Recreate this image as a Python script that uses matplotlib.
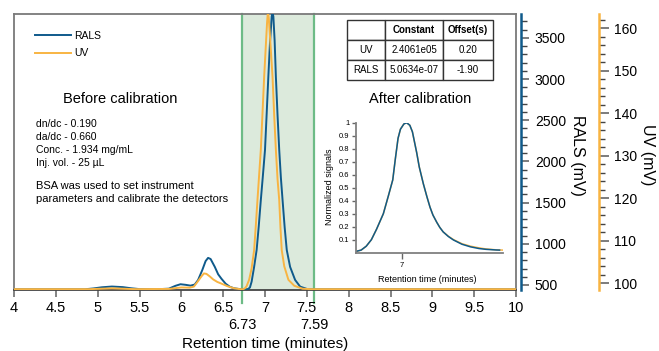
import matplotlib
matplotlib.use('Agg')
import matplotlib.pyplot as plt
from matplotlib.ticker import MultipleLocator

plt.rcParams['font.family'] = ['Liberation Sans', 'DejaVu Sans']

# RALS detector trace: retention time (min) and signal (mV)
rals_t = [4.0, 4.85, 4.95, 5.05, 5.17, 5.3, 5.4, 5.5, 5.7, 5.85, 5.93, 5.99, 6.05, 6.11,
          6.16, 6.2, 6.25, 6.29, 6.32, 6.35, 6.4, 6.44, 6.48, 6.53, 6.58, 6.63, 6.7, 6.78,
          6.8, 6.82, 6.84, 6.87, 6.9, 6.925, 6.95, 6.975, 7.0, 7.02, 7.04, 7.06, 7.08, 7.09,
          7.1, 7.115, 7.13, 7.15, 7.17, 7.19, 7.21, 7.235, 7.26, 7.3, 7.36, 7.42, 7.5, 7.55, 10.0]
rals_mv = [448, 448, 458, 472, 481, 474, 460, 450, 448, 455, 490, 509, 502, 492,
           505, 560, 680, 790, 829, 815, 720, 630, 575, 515, 478, 460, 450, 448,
           452, 470, 540, 720, 925, 1210, 1530, 1830, 2140, 2580, 3030, 3450, 3760, 3800,
           3760, 3470, 3030, 2560, 2140, 1800, 1530, 1200, 925, 720, 561, 480, 452, 448, 448]

# UV detector trace
uv_t = [4.0, 4.9, 5.17, 5.45, 5.85, 6.0, 6.1, 6.15, 6.2, 6.24, 6.27, 6.3, 6.34, 6.38,
        6.43, 6.48, 6.55, 6.63, 6.7, 6.74, 6.76, 6.78, 6.81, 6.84, 6.87, 6.89, 6.91, 6.93,
        6.95, 6.97, 6.99, 7.01, 7.025, 7.035, 7.045, 7.06, 7.09, 7.11, 7.13, 7.15, 7.17,
        7.185, 7.2, 7.23, 7.28, 7.35, 7.45, 7.55, 10.0]
uv_mv = [98.6, 98.6, 98.8, 98.6, 98.65, 99.0, 98.95, 99.2, 100.5, 101.6, 102.3, 102.2, 101.6, 100.9,
         100.3, 99.9, 99.3, 98.8, 98.6, 98.6, 98.8, 99.3, 100.8, 103.5, 107.8, 113.5, 119.6, 125.5,
         131.4, 140.0, 148.6, 156.0, 161.5, 164.0, 162.5, 158.0, 148.6, 139.5, 131.4, 124.5, 119.6,
         113.0, 107.8, 104.0, 100.8, 99.4, 98.7, 98.6, 98.6]

# normalized signals after calibration (inset)
norm_t = [6.73, 6.76, 6.79, 6.82, 6.85, 6.89, 6.92, 6.945, 6.96, 6.976, 6.99, 7.01, 7.026, 7.045,
          7.06, 7.085, 7.1, 7.124, 7.145, 7.163, 7.18, 7.202, 7.22, 7.24, 7.27, 7.3, 7.35, 7.4,
          7.45, 7.49, 7.55, 7.57]
norm_rals = [0.01, 0.02, 0.05, 0.10, 0.18, 0.30, 0.44, 0.56, 0.72, 0.88, 0.95, 0.99, 1.0, 0.98,
             0.93, 0.77, 0.66, 0.53, 0.43, 0.35, 0.29, 0.235, 0.195, 0.16, 0.125, 0.098, 0.065, 0.045,
             0.032, 0.026, 0.021, 0.02]
norm_t_uv = [6.73, 6.76, 6.79, 6.82, 6.85, 6.89, 6.92, 6.945, 6.96, 6.976, 6.99, 7.01, 7.026, 7.045,
             7.06, 7.085, 7.1, 7.124, 7.145, 7.163, 7.18, 7.202, 7.22, 7.24, 7.27, 7.3, 7.35, 7.4,
             7.45, 7.49, 7.55, 7.59]
norm_uv = [0.01, 0.02, 0.05, 0.10, 0.18, 0.30, 0.44, 0.56, 0.72, 0.88, 0.95, 0.99, 1.0, 0.98,
           0.93, 0.77, 0.66, 0.53, 0.43, 0.35, 0.29, 0.235, 0.195, 0.16, 0.127, 0.101, 0.069, 0.05,
           0.037, 0.029, 0.022, 0.02]

cal_window = [6.73, 7.59]
x_ticks = [4, 4.5, 5, 5.5, 6, 6.5, 7, 7.5, 8, 8.5, 9, 9.5, 10]
x_ticklabels = ['4', '4.5', '5', '5.5', '6', '6.5', '7', '7.5', '8', '8.5', '9', '9.5', '10']
rals_ticks = [500, 1000, 1500, 2000, 2500, 3000, 3500]
uv_ticks = [100, 110, 120, 130, 140, 150, 160]
norm_ticks = [0.1, 0.2, 0.3, 0.4, 0.5, 0.6, 0.7, 0.8, 0.9, 1.0]
norm_ticklabels = ['0.1', '0.2', '0.3', '0.4', '0.5', '0.6', '0.7', '0.8', '0.9', '1']

sample_info = ['dn/dc - 0.190', 'da/dc - 0.660', 'Conc. - 1.934 mg/mL', 'Inj. vol. - 25 \u00b5L']
bsa_note = ['BSA was used to set instrument', 'parameters and calibrate the detectors']
table_cols = ['', 'Constant', 'Offset(s)']
table_rows = [['UV', '2.4061e05', '0.20'],
              ['RALS', '5.0634e-07', '-1.90']]

BLUE = '#0f5a8b'
ORANGE = '#f8b442'
GREEN = '#6dbb86'
GREEN_FILL = '#dceadc'
GREY = '#7a7a7a'

W, H = 659, 351
DPI = 100
fig = plt.figure(figsize=(W / DPI, H / DPI), dpi=DPI)


def box(x0, y0, x1, y1):
    return [x0 / W, 1 - y1 / H, (x1 - x0) / W, (y1 - y0) / H]


def fxy(x, y):
    return x / W, 1 - y / H


def px_to_pt(p):
    return p * 72 / DPI


ax = fig.add_axes(box(14, 14, 516, 290))
ax.set_xlim(4, 10)
ax.set_ylim(0, 1)
ax.set_yticks([])
for side in ['left', 'top', 'right']:
    ax.spines[side].set_color(GREY)
    ax.spines[side].set_linewidth(1.3)
ax.spines['bottom'].set_color('#444444')
ax.spines['bottom'].set_linewidth(1.3)
ax.set_xticks(x_ticks)
ax.set_xticklabels(x_ticklabels)
ax.tick_params(axis='x', length=5, width=1.3, color=GREY, labelsize=10.5, pad=3)

# calibration window
ax.axvspan(cal_window[0], cal_window[1], color=GREEN_FILL, lw=0, zorder=0)
for xv in cal_window:
    ax.plot([xv, xv], [-0.047, 1], color=GREEN, lw=1.6, clip_on=False, zorder=1)
    ax.text(xv, -0.127, f'{xv:.2f}', ha='center', va='center', fontsize=10.5,
            transform=ax.get_xaxis_transform())

ax_r = ax.twinx()
ax_r.set_ylim(439, 3790)
ax_r.set_yticks(rals_ticks)
ax_r.yaxis.set_minor_locator(MultipleLocator(100))
ax_r.tick_params(axis='y', which='major', length=6, width=1.2, color='#666666', labelsize=10, pad=4)
ax_r.tick_params(axis='y', which='minor', length=4, width=1.0, color='#444444')
for side in ['left', 'top', 'bottom']:
    ax_r.spines[side].set_visible(False)
ax_r.spines['right'].set_position(('outward', px_to_pt(5)))
ax_r.spines['right'].set_color(BLUE)
ax_r.spines['right'].set_linewidth(1.8)
rals_line, = ax_r.plot(rals_t, rals_mv, color=BLUE, lw=1.4)

ax_u = ax.twinx()
ax_u.set_ylim(98.4, 163.4)
ax_u.set_yticks(uv_ticks)
ax_u.yaxis.set_minor_locator(MultipleLocator(2))
ax_u.tick_params(axis='y', which='major', length=7, width=1.2, color='#666666', labelsize=10, pad=4)
ax_u.tick_params(axis='y', which='minor', length=4, width=1.0, color='#444444')
for side in ['left', 'top', 'bottom']:
    ax_u.spines[side].set_visible(False)
ax_u.spines['right'].set_position(('outward', px_to_pt(83)))
ax_u.spines['right'].set_color(ORANGE)
ax_u.spines['right'].set_linewidth(1.8)
uv_line, = ax_u.plot(uv_t, uv_mv, color=ORANGE, lw=1.4)

fig.text(*fxy(578, 155), 'RALS (mV)', rotation=270, ha='center', va='center', fontsize=11.5)
fig.text(*fxy(648, 155), 'UV (mV)', rotation=270, ha='center', va='center', fontsize=11.5)
fig.text(*fxy(265, 344), 'Retention time (minutes)', ha='center', va='center', fontsize=11)

ax_u.legend([rals_line, uv_line], ['RALS', 'UV'], loc='upper left',
            bbox_to_anchor=(0.042, 0.94), frameon=False, fontsize=7.5,
            handlelength=3.4, handletextpad=0.35, labelspacing=0.75,
            borderpad=0, borderaxespad=0)

fig.text(*fxy(120, 99), 'Before calibration', ha='center', va='center', fontsize=10.5)
for i, line in enumerate(sample_info):
    fig.text(*fxy(36, 124 + 13 * i), line, ha='left', va='center', fontsize=7.5)
for i, line in enumerate(bsa_note):
    fig.text(*fxy(36, 186 + 13 * i), line, ha='left', va='center', fontsize=8)
fig.text(*fxy(420, 99), 'After calibration', ha='center', va='center', fontsize=10.5)

# calibration constants table
tbl = ax_u.table(cellText=[table_cols] + table_rows, cellLoc='center',
                 colWidths=[38 / 146, 58 / 146, 50 / 146],
                 bbox=[(347 - 14) / 502, (290 - 80) / 276, 146 / 502, 60 / 276])
tbl.auto_set_font_size(False)
for (r, c), cell in tbl.get_celld().items():
    cell.set_edgecolor('#333333')
    cell.set_linewidth(1.0)
    cell.set_text_props(fontsize=7, fontweight='bold' if r == 0 else 'normal')

# inset with normalized signals
ins = fig.add_axes(box(356, 122.7, 503, 252.7))
ins.set_facecolor('none')
ins.plot(norm_t_uv, norm_uv, color=ORANGE, lw=1.1)
ins.plot(norm_t, norm_rals, color=BLUE, lw=1.1)
ins.set_xlim(6.73, 7.59)
ins.set_ylim(0, 1)
ins.spines['top'].set_visible(False)
ins.spines['right'].set_visible(False)
for side in ['left', 'bottom']:
    ins.spines[side].set_color('#808080')
    ins.spines[side].set_linewidth(1.3)
ins.set_xticks([7])
ins.set_xticklabels(['7'])
ins.set_yticks(norm_ticks)
ins.set_yticklabels(norm_ticklabels)
ins.tick_params(length=3, width=1, color='#666666', labelsize=5.5, pad=1.5)
ins.tick_params(axis='x', length=4, pad=3)
fig.text(*fxy(329, 187), 'Normalized signals', rotation=90, ha='center', va='center', fontsize=6.5)
fig.text(*fxy(427, 279), 'Retention time (minutes)', ha='center', va='center', fontsize=6.5)

fig.savefig('out.png', dpi=DPI)
